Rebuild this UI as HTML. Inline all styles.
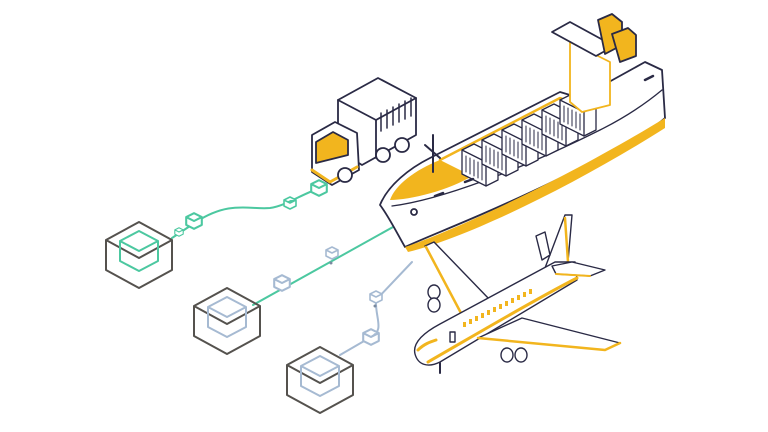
<!DOCTYPE html>
<html><head><style>html,body{margin:0;padding:0;background:#fff;width:768px;height:432px;overflow:hidden}</style></head>
<body>
<svg width="768" height="432" viewBox="0 0 768 432" xmlns="http://www.w3.org/2000/svg" fill="none" stroke-linejoin="round" stroke-linecap="round">
<defs>
<g id="bc"><path d="M0,-33 L33,-15 L33,15 L0,33 L-33,15 L-33,-15 Z M-33,-15 L0,3 L33,-15" stroke="#55524e" stroke-width="2"/></g>
<g id="sc"><path d="M0,-6 L6,-3 L6,3 L0,6 L-6,3 L-6,-3 Z M-6,-3 L0,0 L6,-3" fill="#fff"/></g>
<g id="ct"><path d="M0,0 L12,-6 L36,6 L36,30 L24,36 L0,24 Z" fill="#fff"/><path d="M0,0 L24,12 L36,6 M24,12 L24,36"/><path d="M4,6 v16 M8,8 v16 M12,10 v16 M16,12 v16 M20,14 v16" stroke-width="1"/></g>
</defs>
<!-- connectors -->
<path d="M172,238 L196,222 C230,200 250,210 270,208 C285,206 300,195 320,188" stroke="#4cc8a0" stroke-width="2"/>
<path d="M253,305 L402,222" stroke="#4cc8a0" stroke-width="2"/>
<path d="M340,355 L371,337 C385,330 375,318 376,300 L412,262" stroke="#a6bad2" stroke-width="2"/>
<!-- big cubes -->
<g transform="translate(139,255)"><use href="#bc"/><path d="M0,-20 L19,-10 L19,10 L0,20 L-19,10 L-19,-10 Z M-19,-10 L0,0 L19,-10" stroke="#4cc8a0" stroke-width="2" transform="translate(0,-4)"/></g>
<g transform="translate(227,321)"><use href="#bc"/><path d="M0,-20 L19,-10 L19,10 L0,20 L-19,10 L-19,-10 Z M-19,-10 L0,0 L19,-10" stroke="#a6bad2" stroke-width="2" transform="translate(0,-4)"/></g>
<g transform="translate(320,380)"><use href="#bc"/><path d="M0,-20 L19,-10 L19,10 L0,20 L-19,10 L-19,-10 Z M-19,-10 L0,0 L19,-10" stroke="#a6bad2" stroke-width="2" transform="translate(0,-4)"/></g>
<!-- small cubes -->
<g stroke="#4cc8a0" stroke-width="1.6">
<use href="#sc" transform="translate(179,232) scale(0.7)"/>
<use href="#sc" transform="translate(194,221) scale(1.3)"/>
<use href="#sc" transform="translate(290,203)"/>
<use href="#sc" transform="translate(319,188) scale(1.3)"/>
</g>
<g stroke="#a6bad2" stroke-width="1.6">
<use href="#sc" transform="translate(282,283) scale(1.3)"/>
<use href="#sc" transform="translate(332,253)"/>
<use href="#sc" transform="translate(376,297)"/>
<use href="#sc" transform="translate(371,337) scale(1.3)"/>
</g>
<circle cx="331" cy="263" r="1.5" fill="#7a8aa0"/><circle cx="375" cy="306" r="1.5" fill="#7a8aa0"/>
<!-- truck -->
<g stroke="#2a2a45" stroke-width="1.8" fill="#fff">
<path d="M338,100 L378,78 L416,98 L416,135 L362,165 L338,150 Z"/>
<path d="M338,100 L376,120 L416,98 M376,120 L376,158"/>
<path d="M381,113 v18 M387,110 v18 M393,107 v18 M399,104 v18 M405,101 v18 M411,98 v18" stroke-width="1.5"/>
<path d="M312,135 L335,122 L357,133 L359,170 L332,185 L312,172 Z"/>
<path d="M316,142 L333,132 L348,140 L348,155 L316,163 Z" fill="#f2b51e"/>
<path d="M312,170 L330,182 L357,167" stroke="#f2b51e" stroke-width="3"/>
<circle cx="345" cy="175" r="7"/><circle cx="383" cy="155" r="7"/><circle cx="402" cy="145" r="7"/>
</g>
<!-- ship -->
<g stroke="#2a2a45" stroke-width="1.8">
<path d="M380,205 C388,185 410,168 430,158 L560,92 L580,98 L645,62 L662,70 L665,118 C640,140 560,180 480,215 C450,228 420,240 405,247 C398,235 388,215 380,205 Z" fill="#fff"/>
<path d="M405,247 C450,232 560,182 665,118 L665,128 C580,182 470,237 408,252 Z" fill="#f2b51e" stroke="none"/>
<path d="M390,200 C395,185 415,170 440,160 L472,176 C450,190 410,200 390,200 Z" fill="#f2b51e" stroke="none"/>
<path d="M392,206 C440,200 520,170 600,130 C630,115 650,100 662,90" stroke-width="1.3"/>
<path d="M440,160 L560,98 L580,106" stroke="#f2b51e" stroke-width="2.5"/>
<g stroke-width="1.3">
<use href="#ct" transform="translate(462,150)"/>
<use href="#ct" transform="translate(482,140)"/>
<use href="#ct" transform="translate(502,130)"/>
<use href="#ct" transform="translate(522,120)"/>
<use href="#ct" transform="translate(542,110)"/>
<use href="#ct" transform="translate(560,100)"/>
</g>
<path d="M570,42 L610,62 L610,105 L582,112 L570,102 Z" fill="#fff" stroke="#f2b51e"/>
<path d="M552,32 L570,22 L614,46 L596,56 Z" fill="#fff"/>
<path d="M598,20 L612,14 L622,22 L622,45 L605,54 Z" fill="#f2b51e"/>
<path d="M612,34 L628,28 L636,35 L636,56 L620,62 Z" fill="#f2b51e"/>
<path d="M433,135 L433,172 M425,145 L440,158" stroke-width="2"/>
<circle cx="414" cy="212" r="3"/>
<path d="M435,196 l8,-3 M465,182 l8,-3 M645,80 l8,-4" stroke-width="2.5"/>
</g>
<!-- plane -->
<g stroke="#2a2a45" stroke-width="1.4">
<path d="M490,300 L434,242 L425,246 L462,315 Z" fill="#fff"/>
<path d="M426,247 L462,315" stroke="#f2b51e" stroke-width="2.5"/>
<g fill="#fff"><ellipse cx="434" cy="292" rx="6" ry="7"/><ellipse cx="434" cy="305" rx="6" ry="7"/></g>
<path d="M545,268 L565,215 L572,215 L568,262 Z" fill="#fff"/>
<path d="M565,218 L568,262" stroke="#f2b51e" stroke-width="2.5"/>
<path d="M536,236 L545,232 L550,255 L542,260 Z" fill="#fff"/>
<path d="M415,354 C412,342 425,332 440,324 L555,262 L575,262 L577,280 L440,362 C428,368 418,365 415,354 Z" fill="#fff"/>
<path d="M428,362 C470,338 530,302 577,278" stroke="#f2b51e" stroke-width="3"/>
<path d="M478,338 L522,318 L620,343 L605,350 Z" fill="#fff"/>
<path d="M478,338 L605,350 L620,343" stroke="#f2b51e" stroke-width="2.5"/>
<path d="M552,266 L572,262 L605,270 L590,276 L556,274 Z" fill="#fff"/>
<path d="M556,274 L590,276" stroke="#f2b51e" stroke-width="2"/>
<g fill="#fff"><ellipse cx="507" cy="355" rx="6" ry="7"/><ellipse cx="521" cy="355" rx="6" ry="7"/></g>
<path d="M418,350 C424,344 430,342 436,340" stroke="#f2b51e" stroke-width="3"/>
<g fill="#f2b51e" stroke="none">
<rect x="463" y="322" width="3" height="5"/><rect x="469" y="319" width="3" height="5"/><rect x="475" y="316" width="3" height="5"/><rect x="481" y="313" width="3" height="5"/><rect x="487" y="310" width="3" height="5"/><rect x="493" y="307" width="3" height="5"/><rect x="499" y="304" width="3" height="5"/><rect x="505" y="301" width="3" height="5"/><rect x="511" y="298" width="3" height="5"/><rect x="517" y="295" width="3" height="5"/><rect x="523" y="292" width="3" height="5"/><rect x="529" y="289" width="3" height="5"/>
</g>
<rect x="450" y="332" width="5" height="10" fill="#fff"/>
<path d="M440,363 v10" stroke-width="2"/>
</g>
</svg>
</body></html>
